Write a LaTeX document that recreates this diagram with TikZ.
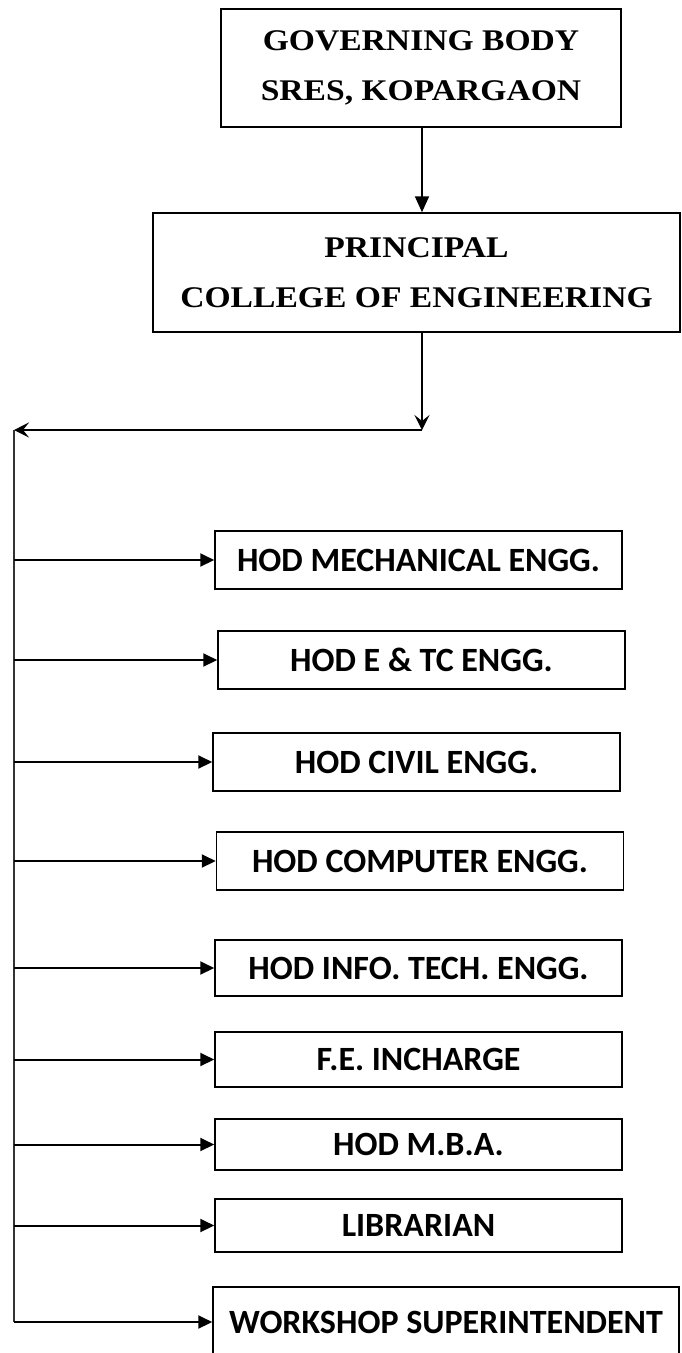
\documentclass[tikz,border=0pt]{standalone}
\usepackage{fontspec}
\newfontfamily\headfont[FakeStretch=1.12]{Liberation Serif}
\newfontfamily\hodfont{Carlito}
\usetikzlibrary{arrows.meta}

\tikzset{
    headbox/.style={draw, line width=1.5pt, align=center, inner sep=0pt,
        font=\headfont\bfseries\fontsize{30}{50}\selectfont},
    hodbox/.style={draw, line width=1.5pt, inner sep=0pt, minimum width=407pt,
        font=\hodfont\bfseries\fontsize{34}{40}\selectfont},
    feed/.style={line width=2pt, -{Triangle[length=14pt,width=13pt]}},
    branch/.style={line width=2pt, -{Stealth[length=15pt,width=15pt,inset=6pt]}},
}

\begin{document}
\begin{tikzpicture}[x=1pt, y=-1pt]
    \useasboundingbox (0,0) rectangle (681,1353);
    \clip (0,0) rectangle (681,1353);
    \fill [white] (0,0) rectangle (681,1353);

    % top of the chart
    \node [headbox, minimum width=400pt, minimum height=118pt] (gov) at (421,68) {GOVERNING BODY\\SRES, KOPARGAON};
    \node [headbox, minimum width=527pt, minimum height=119pt] (prin) at (416.5,272.5) {PRINCIPAL\\COLLEGE OF ENGINEERING};

    \coordinate (split) at (422,430);
    \coordinate (trunk) at (14,430);
    \coordinate (trunkend) at (14,1322);

    \draw [line width=2pt, -{Triangle[length=16pt,width=14pt]}] (split |- gov.south) -- (split |- prin.north);
    \draw [branch] (split |- prin.south) -- (split);
    \draw [branch] (split) -- (trunk);
    \draw [line width=1.8pt, black!80] (trunk) -- (trunkend);

    % departments
    \node [hodbox, minimum height=58pt] (mech) at (418.5,560) {HOD MECHANICAL ENGG.};
    \node [hodbox, minimum height=58pt] (entc) at (421.5,660) {HOD E \& TC ENGG.};
    \node [hodbox, minimum height=58pt] (civil) at (416.5,762) {HOD CIVIL ENGG.};
    \node [hodbox, minimum height=58pt] (comp) at (420,861) {HOD COMPUTER ENGG.};
    \node [hodbox, minimum height=56pt] (info) at (418.5,968) {HOD INFO. TECH. ENGG.};
    \node [hodbox, minimum height=55pt] (fe) at (418.5,1059.5) {F.E. INCHARGE};
    \node [hodbox, minimum height=51pt] (mba) at (418.5,1144.5) {HOD M.B.A.};
    \node [hodbox, minimum height=53pt] (lib) at (418.5,1225.5) {LIBRARIAN};
    \node [hodbox, minimum width=466pt, minimum height=70pt] (work) at (446,1322) {WORKSHOP SUPERINTENDENT};

    \draw [feed] (trunk |- mech.west) -- (mech.west);
    \draw [feed] (trunk |- entc.west) -- (entc.west);
    \draw [feed] (trunk |- civil.west) -- (civil.west);
    \draw [feed] (trunk |- comp.west) -- (comp.west);
    \draw [feed] (trunk |- info.west) -- (info.west);
    \draw [feed] (trunk |- fe.west) -- (fe.west);
    \draw [feed] (trunk |- mba.west) -- (mba.west);
    \draw [feed] (trunk |- lib.west) -- (lib.west);
    \draw [feed] (trunkend) -- (work.west);

\end{tikzpicture}
\end{document}
